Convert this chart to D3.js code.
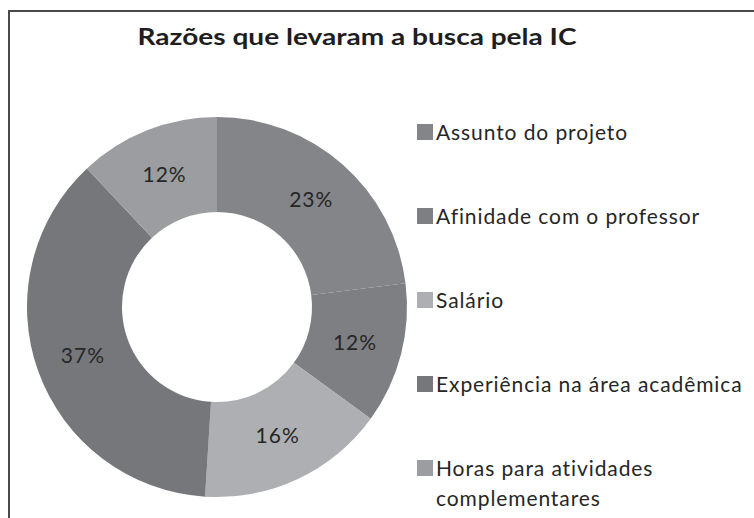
<!DOCTYPE html>
<html>
<head>
<meta charset="utf-8">
<script src="https://cdn.jsdelivr.net/npm/d3@7"></script>
<style>
  html, body { margin: 0; padding: 0; background: #fff; }
  svg { display: block; }
</style>
</head>
<body>
<svg id="chart" width="754" height="518"></svg>
<script>
// ---- data ----
const title = "Razões que levaram a busca pela IC";
const categories = [
  "Assunto do projeto",
  "Afinidade com o professor",
  "Salário",
  "Experiência na área acadêmica",
  "Horas para atividades complementares"
];
const legendLines = [
  ["Assunto do projeto"],
  ["Afinidade com o professor"],
  ["Salário"],
  ["Experiência na área acadêmica"],
  ["Horas para atividades", "complementares"]
];
const values = [23, 12, 16, 37, 12];
const colors = ["#848589", "#7e7f83", "#aeafb2", "#76777b", "#9c9da0"];

// ---- layout ----
const W = 754, H = 518;
const cx = 217, cy = 307, rOuter = 190, rInner = 95;
const legendX = 417, legendText = 436, legendTop = 140, legendStep = 84, lineStep = 30;
const fontFamily = "Lato, 'Open Sans', 'Noto Sans', sans-serif";

const svg = d3.select("#chart");

// frame
svg.append("path")
  .attr("d", `M9,${H} L9,11 L${W},11`)
  .attr("fill", "none")
  .attr("stroke", "#4a4a4a")
  .attr("stroke-width", 2);

// title
svg.append("text")
  .attr("x", 357).attr("y", 45)
  .attr("text-anchor", "middle")
  .attr("font-family", fontFamily)
  .attr("font-weight", "bold")
  .attr("font-size", 23)
  .attr("fill", "#1e1e1e")
  .attr("textLength", 439)
  .attr("lengthAdjust", "spacingAndGlyphs")
  .text(title);

// donut
const pie = d3.pie().sort(null).startAngle(0).endAngle(2 * Math.PI)(values);
const arc = d3.arc().innerRadius(rInner).outerRadius(rOuter);
const color = d3.scaleOrdinal().domain(categories).range(colors);

const g = svg.append("g").attr("transform", `translate(${cx},${cy})`);
g.selectAll("path.slice")
  .data(pie)
  .join("path")
  .attr("class", "slice")
  .attr("d", arc)
  .attr("fill", (d, i) => color(categories[i]));

g.selectAll("text.lbl")
  .data(pie)
  .join("text")
  .attr("class", "lbl")
  .attr("transform", d => `translate(${arc.centroid(d)})`)
  .attr("text-anchor", "middle")
  .attr("dy", "0.35em")
  .attr("font-family", fontFamily)
  .attr("font-size", 21)
  .attr("letter-spacing", 1)
  .attr("fill", "#262626")
  .text(d => d.data + "%");

// legend
const lg = svg.append("g");
categories.forEach((c, i) => {
  const y = legendTop + i * legendStep;
  lg.append("rect")
    .attr("x", legendX).attr("y", y - 16)
    .attr("width", 16).attr("height", 16)
    .attr("fill", color(c));
  legendLines[i].forEach((ln, j) => {
    lg.append("text")
      .attr("x", legendText).attr("y", y + j * lineStep)
      .attr("font-family", fontFamily)
      .attr("font-size", 21)
      .attr("letter-spacing", 0.9)
      .attr("fill", "#262626")
      .text(ln);
  });
});
</script>
</body>
</html>
